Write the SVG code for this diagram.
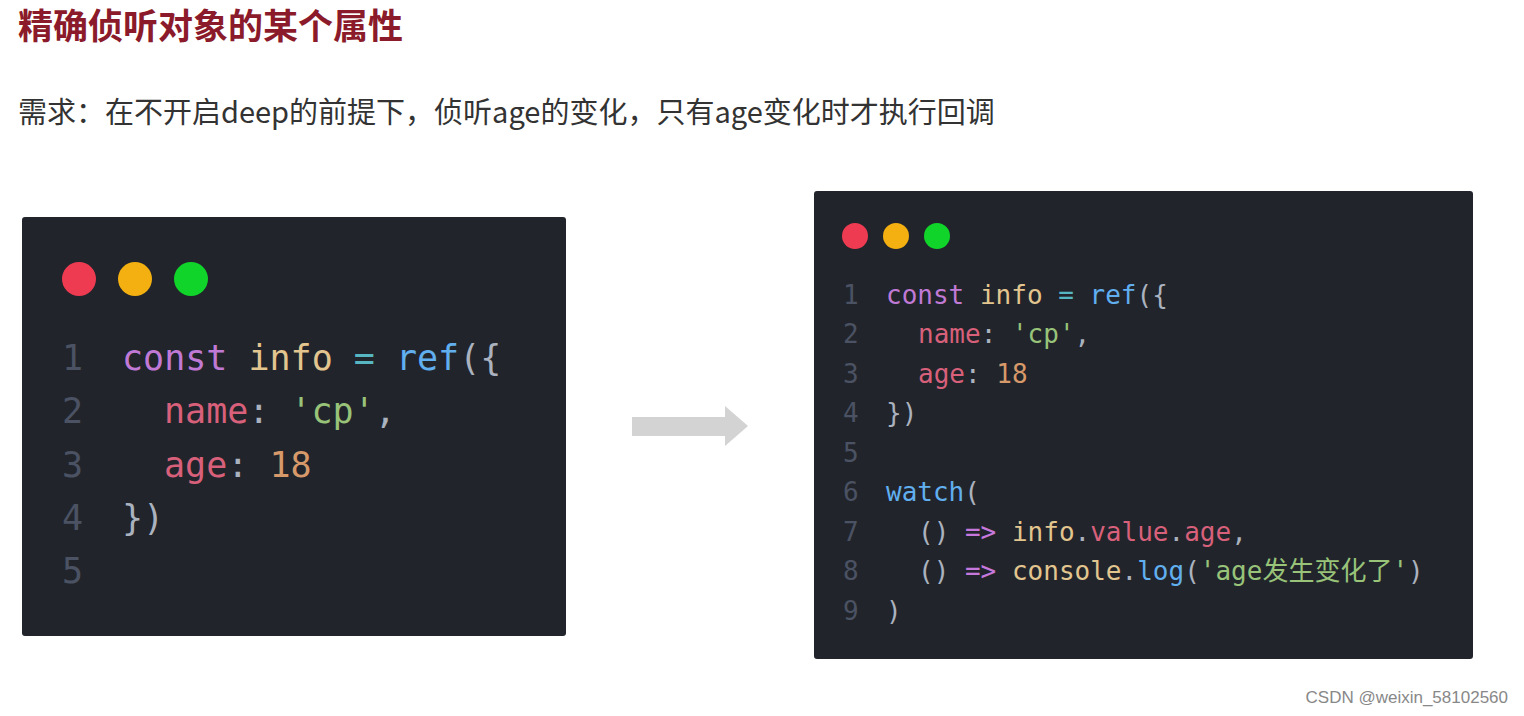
<svg xmlns="http://www.w3.org/2000/svg" width="1524" height="716" viewBox="0 0 1524 716">
<style>
.code{font-family:"DejaVu Sans Mono","Noto Sans CJK SC",monospace;white-space:pre}
.L{font-size:35px}.R{font-size:26px}
.ln{fill:#4b5263}.k{fill:#c07ad6}.v{fill:#e3c58f}.op{fill:#56b6c2}.f{fill:#61afef}.p{fill:#abb2bf}
.pr{fill:#d8607a}.s{fill:#98c379}.n{fill:#d7996a}.ar{fill:#c678dd}
.cjk{font-family:"Noto Sans CJK SC",sans-serif}
</style>
<rect width="1524" height="716" fill="#fff"/>
<g id="title"><text x="18" y="39" class="cjk" font-size="35" font-weight="bold" fill="#8b1a2a">精确侦听对象的某个属性</text></g>
<g id="subtitle"><text x="18" y="123" class="cjk" font-size="29" fill="#333">需求：在不开启deep的前提下，侦听age的变化，只有age变化时才执行回调</text></g>
<g id="left-code">
<rect x="22" y="217" width="544" height="419" rx="3" fill="#21252b"/>
<circle cx="79" cy="279" r="17" fill="#ef3b51"/><circle cx="135" cy="279" r="17" fill="#f4b010"/><circle cx="191" cy="279" r="17" fill="#10d42a"/>
<g class="code L">
<text x="62" y="370"><tspan class="ln">1</tspan><tspan x="122" class="k">const</tspan><tspan class="v"> info</tspan><tspan class="op"> =</tspan><tspan class="f"> ref</tspan><tspan class="p">({</tspan></text>
<text x="62" y="423"><tspan class="ln">2</tspan><tspan x="164" class="pr">name</tspan><tspan class="p">: </tspan><tspan class="s">'cp'</tspan><tspan class="p">,</tspan></text>
<text x="62" y="477"><tspan class="ln">3</tspan><tspan x="164" class="pr">age</tspan><tspan class="p">: </tspan><tspan class="n">18</tspan></text>
<text x="62" y="530"><tspan class="ln">4</tspan><tspan x="122" class="p">})</tspan></text>
<text x="62" y="583"><tspan class="ln">5</tspan></text>
</g>
</g>
<g id="connectors"><polygon points="632,417 725,417 725,406 748,426 725,446 725,436 632,436" fill="#d3d3d3"/></g>
<g id="right-code">
<rect x="814" y="191" width="659" height="468" rx="3" fill="#21252b"/>
<circle cx="855" cy="236" r="13" fill="#ef3b51"/><circle cx="896" cy="236" r="13" fill="#f4b010"/><circle cx="937" cy="236" r="13" fill="#10d42a"/>
<g class="code R">
<text x="843" y="304"><tspan class="ln">1</tspan><tspan x="886" class="k">const</tspan><tspan class="v"> info</tspan><tspan class="op"> =</tspan><tspan class="f"> ref</tspan><tspan class="p">({</tspan></text>
<text x="843" y="343"><tspan class="ln">2</tspan><tspan x="918" class="pr">name</tspan><tspan class="p">: </tspan><tspan class="s">'cp'</tspan><tspan class="p">,</tspan></text>
<text x="843" y="383"><tspan class="ln">3</tspan><tspan x="918" class="pr">age</tspan><tspan class="p">: </tspan><tspan class="n">18</tspan></text>
<text x="843" y="422"><tspan class="ln">4</tspan><tspan x="886" class="p">})</tspan></text>
<text x="843" y="462"><tspan class="ln">5</tspan></text>
<text x="843" y="501"><tspan class="ln">6</tspan><tspan x="886" class="f">watch</tspan><tspan class="p">(</tspan></text>
<text x="843" y="541"><tspan class="ln">7</tspan><tspan x="918" class="p">() </tspan><tspan class="ar">=&gt;</tspan><tspan class="v"> info</tspan><tspan class="p">.</tspan><tspan class="pr">value</tspan><tspan class="p">.</tspan><tspan class="pr">age</tspan><tspan class="p">,</tspan></text>
<text x="843" y="580"><tspan class="ln">8</tspan><tspan x="918" class="p">() </tspan><tspan class="ar">=&gt;</tspan><tspan class="v"> console</tspan><tspan class="p">.</tspan><tspan class="f">log</tspan><tspan class="p">(</tspan><tspan class="s">'age发生变化了'</tspan><tspan class="p">)</tspan></text>
<text x="843" y="620"><tspan class="ln">9</tspan><tspan x="886" class="p">)</tspan></text>
</g>
</g>
<g id="watermark"><text x="1508" y="703" text-anchor="end" font-family="Liberation Sans,sans-serif" font-size="17" fill="#888">CSDN @weixin_58102560</text></g>
</svg>
